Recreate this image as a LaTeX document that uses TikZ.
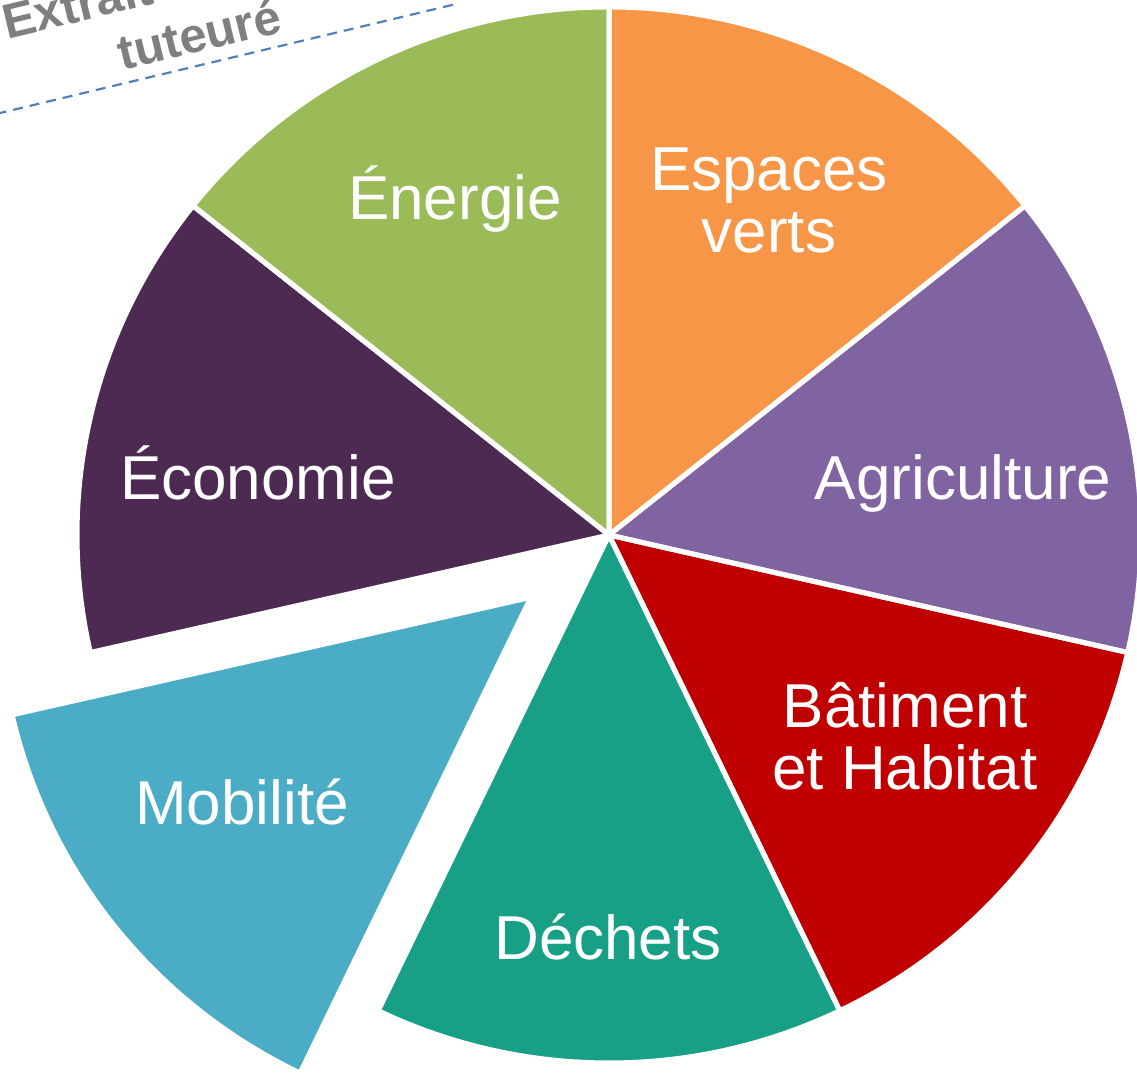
\documentclass[tikz,border=0pt]{standalone}
\usepackage{fontspec}
\setmainfont{Liberation Sans}
\definecolor{cEnergie}{HTML}{9BBB59}
\definecolor{cEspaces}{HTML}{F79646}
\definecolor{cAgri}{HTML}{8064A2}
\definecolor{cBat}{HTML}{C00000}
\definecolor{cDechets}{HTML}{17A085}
\definecolor{cMob}{HTML}{4BACC6}
\definecolor{cEco}{HTML}{4C2A51}
\definecolor{cGrayTxt}{HTML}{7F7F7F}
\definecolor{cDash}{HTML}{4F81BD}
\begin{document}
\begin{tikzpicture}[x=1pt,y=1pt,
  lbl/.style={text=white, font=\fontsize{62}{62}\selectfont, align=center, inner sep=0pt},
  sepline/.style={draw=white, line width=5pt, line join=round},
  dashbox/.style={draw=cDash, line width=2.2pt, dash pattern=on 10pt off 7pt},
  notetxt/.style={text=cGrayTxt, font=\bfseries\fontsize{49}{57}\selectfont, align=center, inner sep=0pt, rotate=13.4}]
\useasboundingbox (0,0) rectangle (1137,1075);
\clip (0,0) rectangle (1137,1075);
\coordinate (c) at (609,540);
\coordinate (m) at ([shift={(-141.43:100pt)}]c);
% slices: fills
\foreach \o/\s/\e/\col in {c/90/141.43/cEnergie, c/38.57/90/cEspaces, c/-12.86/38.57/cAgri, c/-64.29/-12.86/cBat, c/-115.71/-64.29/cDechets, m/-167.14/-115.71/cMob, c/141.43/192.86/cEco}
  \fill[\col] (\o) -- ++(\s:532pt and 528pt) arc[start angle=\s, end angle=\e, x radius=532pt, y radius=528pt] -- cycle;
% slices: white separators
\foreach \o/\s/\e in {c/90/141.43, c/38.57/90, c/-12.86/38.57, c/-64.29/-12.86, c/-115.71/-64.29, m/-167.14/-115.71, c/141.43/192.86}
  \draw[sepline] (\o) -- ++(\s:532pt and 528pt) arc[start angle=\s, end angle=\e, x radius=532pt, y radius=528pt] -- cycle;
% labels
\node[lbl, anchor=base] (energie) at (455,855) {Énergie};
\node[lbl, anchor=base] (espaces) at (769,822) {Espaces\\verts};
\node[lbl, anchor=base] (agri) at (963,575) {Agriculture};
\node[lbl, anchor=base] (eco) at (258,575) {Économie};
\node[lbl, anchor=base] (bat) at (905,285) {Bâtiment\\et Habitat};
\node[lbl, anchor=base] (dechets) at (608,115) {Déchets};
\node[lbl, anchor=base] (mob) at (242,250) {Mobilité};
% note box (cut by the frame)
\coordinate (b1) at (-20,957.2);
\coordinate (b2) at (452,1070);
\coordinate (b3) at (446,1095);
\draw[dashbox] (b1) -- (b2) -- (b3);
\node[notetxt, anchor=base] (note) at (203,1024) {Extrait du projet\\tuteuré};
\end{tikzpicture}
\end{document}
